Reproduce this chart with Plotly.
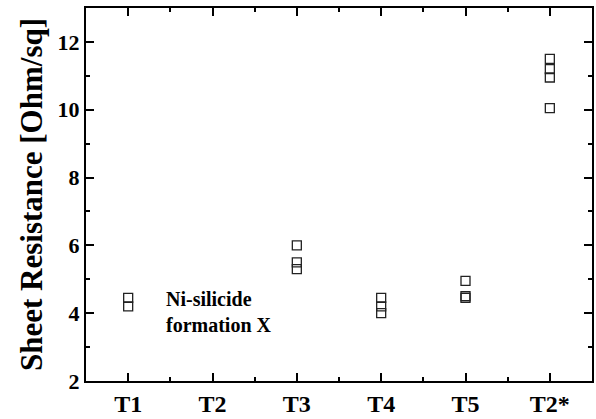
import plotly.graph_objects as go

categories = ["T1", "T2", "T3", "T4", "T5", "T2*"]
cat_pos = [1, 2, 3, 4, 5, 6]

# measured sheet resistance per sample group (Ohm/sq)
t1_vals = [4.45, 4.2]
t2_vals = []
t3_vals = [6.0, 5.5, 5.3]
t4_vals = [4.45, 4.2, 4.0]
t5_vals = [4.95, 4.5, 4.45]
t2s_vals = [11.5, 11.2, 10.95, 10.05]

groups = [t1_vals, t2_vals, t3_vals, t4_vals, t5_vals, t2s_vals]

xs, ys = [], []
for pos, vals in zip(cat_pos, groups):
    for v in vals:
        xs.append(pos)
        ys.append(v)

FONT = "Liberation Serif"

fig = go.Figure()
fig.add_trace(go.Scatter(
    x=xs, y=ys, mode="markers",
    marker=dict(symbol="square-open", size=9, color="#222222", line=dict(width=1.3)),
    showlegend=False, hoverinfo="skip",
))

fig.add_annotation(
    x=1.42, y=4.8, xref="x", yref="y", xanchor="left", yanchor="top",
    text="<b>Ni-silicide<br>formation X</b>", showarrow=False, align="left",
    font=dict(family=FONT, size=20, color="black"),
)

axis_common = dict(
    showline=True, linewidth=2, linecolor="black", mirror="ticks",
    ticks="inside", ticklen=8, tickwidth=2, tickcolor="black",
    showgrid=False, zeroline=False, automargin=False,
)

fig.update_xaxes(
    range=[0.5, 6.5], tickmode="array", tickvals=cat_pos,
    ticktext=categories, ticklabelstandoff=0,
    tickfont=dict(family=FONT, size=24, color="black", weight="bold"),
    minor=dict(ticks="inside", ticklen=4, tickwidth=2, tickcolor="black", dtick=0.5, tick0=0.5),
    **axis_common,
)
fig.update_yaxes(
    range=[2, 13], tickmode="linear", tick0=2, dtick=2,
    tickfont=dict(family=FONT, size=22, color="black", weight="bold"),
    minor=dict(ticks="inside", ticklen=4, tickwidth=2, tickcolor="black", dtick=1, tick0=2),
    title=dict(text="Sheet Resistance [Ohm/sq]",
               font=dict(family=FONT, size=31, color="black", weight="bold"), standoff=6),
    **axis_common,
)

fig.update_layout(
    width=596, height=419,
    margin=dict(l=86, r=4, t=8, b=38),
    paper_bgcolor="white", plot_bgcolor="white",
)

fig.write_html("out.html", config={"displayModeBar": False},
               post_script="document.body.style.margin='0';document.body.style.overflow='hidden';")
